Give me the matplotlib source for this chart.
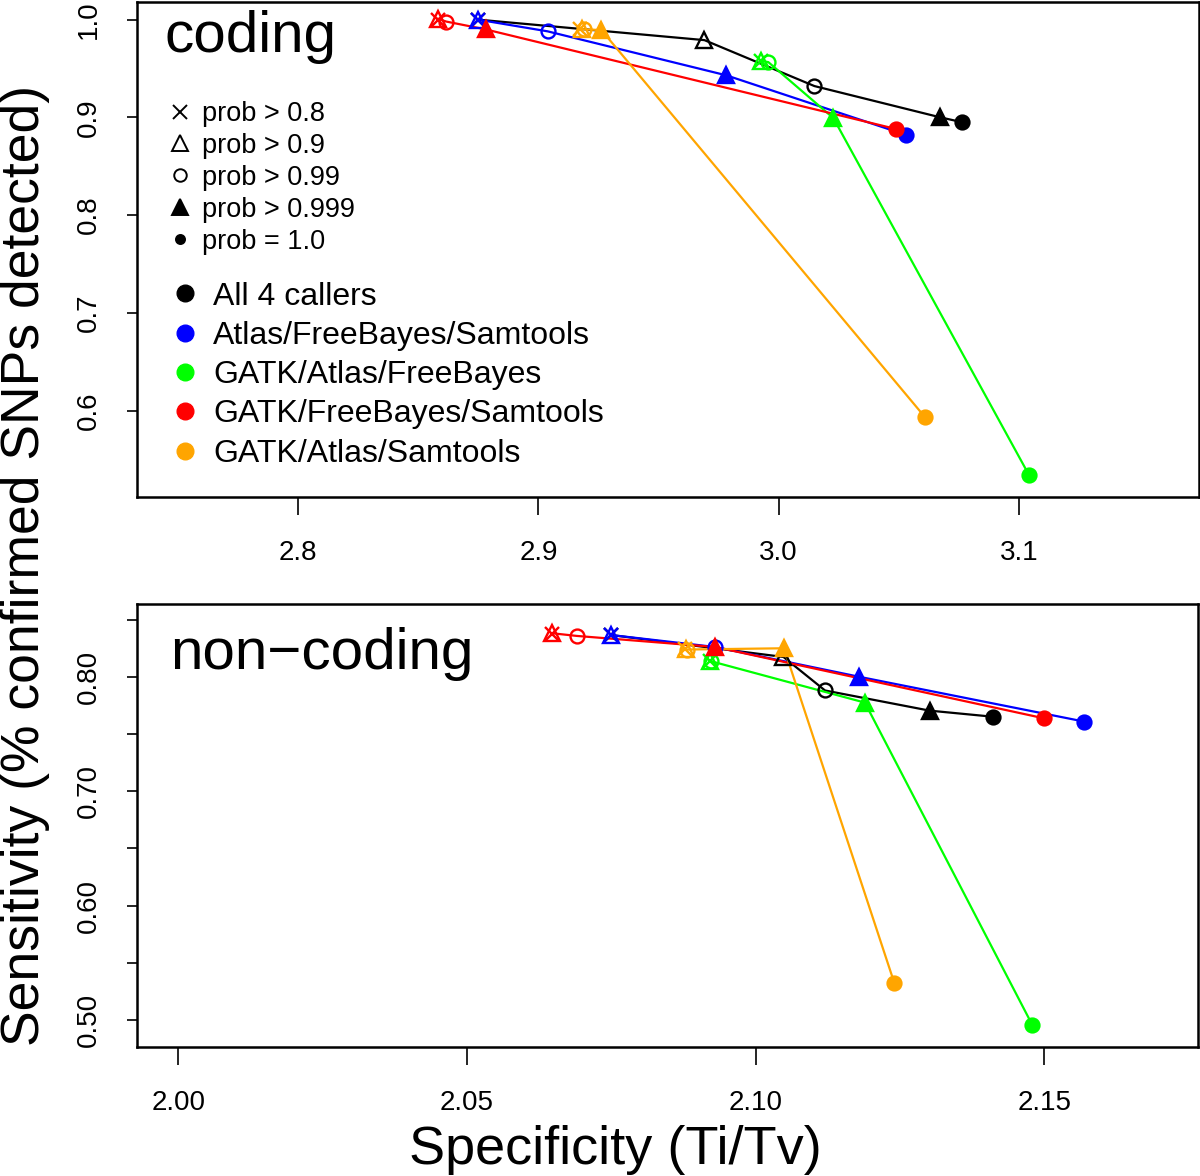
import numpy as np
import matplotlib
matplotlib.use('Agg')
import matplotlib.pyplot as plt
from matplotlib.lines import Line2D

plt.rcParams['font.family'] = ['Liberation Sans', 'DejaVu Sans']

# thresholds: prob > 0.8, > 0.9, > 0.99, > 0.999, = 1.0
thresholds = ['prob > 0.8', 'prob > 0.9', 'prob > 0.99', 'prob > 0.999', 'prob = 1.0']
callers = ['All 4 callers', 'Atlas/FreeBayes/Samtools', 'GATK/Atlas/FreeBayes',
           'GATK/FreeBayes/Samtools', 'GATK/Atlas/Samtools']
colors = ['black', 'blue', '#00ff00', 'red', 'orange']

# coding
coding_x = {
    'All 4 callers':            [2.8747, 2.9691, 3.0149, 3.0673, 3.0765],
    'Atlas/FreeBayes/Samtools': [2.8747, 2.8747, 2.9038, 2.9782, 3.0531],
    'GATK/Atlas/FreeBayes':     [2.9925, 2.9928, 2.9957, 3.0228, 3.1043],
    'GATK/FreeBayes/Samtools':  [2.8580, 2.8580, 2.8616, 2.8780, 3.0490],
    'GATK/Atlas/Samtools':      [2.9175, 2.9183, 2.9190, 2.9262, 3.0610],
}
coding_y = {
    'All 4 callers':            [1.000, 0.979, 0.932, 0.900, 0.895],
    'Atlas/FreeBayes/Samtools': [1.000, 1.000, 0.988, 0.943, 0.882],
    'GATK/Atlas/FreeBayes':     [0.9575, 0.9578, 0.9565, 0.8992, 0.5338],
    'GATK/FreeBayes/Samtools':  [1.000, 1.001, 0.998, 0.990, 0.888],
    'GATK/Atlas/Samtools':      [0.9905, 0.9905, 0.990, 0.9893, 0.5931],
}

# non-coding
noncoding_x = {
    'All 4 callers':            [2.0749, 2.1048, 2.1120, 2.1301, 2.1410],
    'Atlas/FreeBayes/Samtools': [2.0749, 2.0749, 2.0930, 2.1178, 2.1569],
    'GATK/Atlas/FreeBayes':     [2.0921, 2.0921, 2.0923, 2.1189, 2.1479],
    'GATK/FreeBayes/Samtools':  [2.0648, 2.0648, 2.0690, 2.0930, 2.1499],
    'GATK/Atlas/Samtools':      [2.0877, 2.0879, 2.0881, 2.1049, 2.1240],
}
noncoding_y = {
    'All 4 callers':            [0.8365, 0.8173, 0.7880, 0.7704, 0.7651],
    'Atlas/FreeBayes/Samtools': [0.8365, 0.8365, 0.8260, 0.8001, 0.7608],
    'GATK/Atlas/FreeBayes':     [0.8140, 0.8140, 0.8135, 0.7774, 0.4956],
    'GATK/FreeBayes/Samtools':  [0.8374, 0.8380, 0.8357, 0.8260, 0.7637],
    'GATK/Atlas/Samtools':      [0.8240, 0.8243, 0.8238, 0.8249, 0.5323],
}

coding_xticks = [2.8, 2.9, 3.0, 3.1]
coding_yticks = [0.6, 0.7, 0.8, 0.9, 1.0]
noncoding_xticks = [2.00, 2.05, 2.10, 2.15]
noncoding_yticks = [0.50, 0.55, 0.60, 0.65, 0.70, 0.75, 0.80, 0.85]

# marker style per threshold: (marker, filled, size)
mstyles = [('x', True, 10.5), ('^', False, 12), ('o', False, 10), ('^', True, 12), ('o', True, 10)]

fig = plt.figure(figsize=(12, 11.76), dpi=100)
ax1 = fig.add_axes([0.1144, 0.5774, 0.8848, 0.4209])
ax2 = fig.add_axes([0.1144, 0.1097, 0.8840, 0.3767])


def draw_panel(ax, xs, ys):
    for name, col in zip(callers, colors):
        x = xs[name]
        y = ys[name]
        ax.plot(x, y, color=col, lw=1.6, zorder=2)
        for i, (m, filled, s) in enumerate(mstyles):
            ax.plot(x[i], y[i], marker=m, ms=s, color=col, mec=col,
                    mfc=col if filled else 'none', mew=1.7, ls='none', zorder=3)


draw_panel(ax1, coding_x, coding_y)
draw_panel(ax2, noncoding_x, noncoding_y)

ax1.set_xlim(2.733, 3.175)
ax1.set_ylim(0.5117, 1.018)
ax2.set_xlim(1.9929, 2.1766)
ax2.set_ylim(0.4764, 0.8636)

ax1.set_xticks(coding_xticks)
ax1.set_xticklabels(['%.1f' % v for v in coding_xticks])
ax1.set_yticks(coding_yticks)
ax1.set_yticklabels(['%.1f' % v for v in coding_yticks], rotation=90, va='center')
ax2.set_xticks(noncoding_xticks)
ax2.set_xticklabels(['%.2f' % v for v in noncoding_xticks])
ax2.set_yticks(noncoding_yticks)
ax2.set_yticklabels(['%.2f' % v if i % 2 == 0 else '' for i, v in enumerate(noncoding_yticks)],
                    rotation=90, va='center')

for ax in (ax1, ax2):
    for sp in ax.spines.values():
        sp.set_linewidth(1.8)
    ax.tick_params(axis='x', length=13, width=1.2, pad=18, labelsize=20)
    ax.tick_params(axis='y', length=7.5, width=1.2, pad=18, labelsize=20)

ax1.text(0.026, 0.899, 'coding', transform=ax1.transAxes, fontsize=42, va='baseline')
ax2.text(0.031, 0.853, 'non\u2212coding', transform=ax2.transAxes, fontsize=42, va='baseline')

# threshold legend
h1 = [Line2D([], [], marker=m, ms=(s - 1 if i < 4 else 6.5), color='black', mec='black',
             mfc='black' if f else 'none', mew=1.4, ls='none')
      for i, (m, f, s) in enumerate(mstyles)]
leg1 = ax1.legend(h1, thresholds, loc='upper left', bbox_to_anchor=(0.0275, 0.800),
                  frameon=False, fontsize=19.5, handlelength=1.0, handletextpad=0.31,
                  labelspacing=0.22, borderpad=0, borderaxespad=0)
ax1.add_artist(leg1)

# caller legend
h2 = [Line2D([], [], marker='o', ms=12, color=c, ls='none') for c in colors]
ax1.legend(h2, callers, loc='upper left', bbox_to_anchor=(0.0299, 0.435),
           frameon=False, fontsize=23, handlelength=1.0, handletextpad=0.375,
           labelspacing=0.29, borderpad=0, borderaxespad=0)

fig.text(0.0205, 0.519, 'Sensitivity (% confirmed SNPs detected)', rotation=90,
         ha='center', va='center', fontsize=38.5)
fig.text(0.5125, 0.0102, 'Specificity (Ti/Tv)', ha='center', va='baseline', fontsize=39)

fig.savefig('out.png', dpi=100)
